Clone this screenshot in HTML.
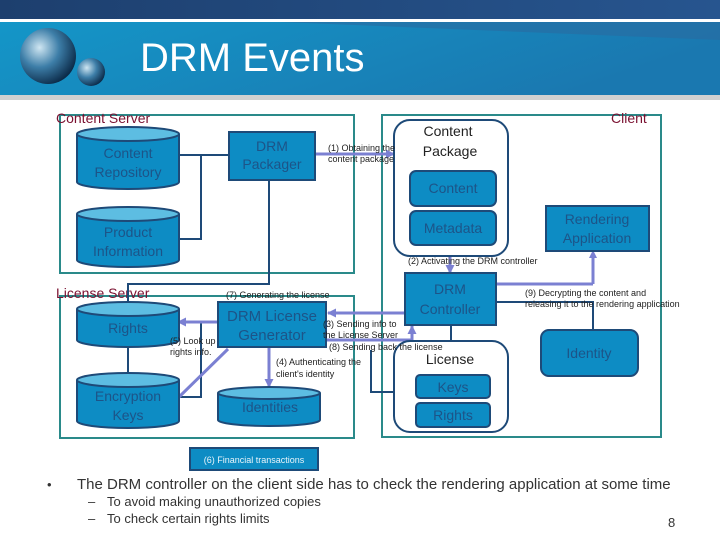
<!DOCTYPE html>
<html><head><style>
body{margin:0;width:720px;height:540px;overflow:hidden;background:#fff;font-family:"Liberation Sans",sans-serif}
</style></head><body>
<svg width="720" height="540" xmlns="http://www.w3.org/2000/svg" font-family="Liberation Sans, sans-serif">
<defs>
<linearGradient id="hb" x1="0" y1="0" x2="1" y2="0"><stop offset="0" stop-color="#1d3f6e"/><stop offset="1" stop-color="#27558f"/></linearGradient>
<linearGradient id="bb" x1="0" y1="0" x2="1" y2="0.3"><stop offset="0" stop-color="#1496c8"/><stop offset="1" stop-color="#1a78b0"/></linearGradient>
<radialGradient id="ball" cx="0.35" cy="0.35" r="0.7"><stop offset="0" stop-color="#cfe6f2"/><stop offset="0.5" stop-color="#3d7ea8"/><stop offset="1" stop-color="#0b2a48"/></radialGradient>
<marker id="ar" markerUnits="userSpaceOnUse" markerWidth="9" markerHeight="9" refX="8" refY="4.5" orient="auto"><path d="M0,0L9,4.5L0,9z" fill="#7b80d2"/></marker>
</defs>
<rect x="0" y="0" width="720" height="19" fill="url(#hb)"/>
<rect x="0" y="19" width="720" height="3" fill="#fff"/>
<rect x="0" y="22" width="720" height="73" fill="url(#bb)"/>
<polygon points="280,22 720,22 720,40" fill="#2a6aa0" opacity="0.6"/>
<rect x="0" y="95" width="720" height="5" fill="#d0d0d0"/>
<circle cx="48" cy="56" r="28" fill="url(#ball)"/>
<circle cx="91" cy="72" r="14" fill="url(#ball)"/>
<text x="140" y="71" font-size="40" fill="#fff">DRM Events</text>

<g fill="none" stroke="#2a8a8a" stroke-width="2">
<rect x="60" y="115" width="294" height="158"/>
<rect x="60" y="296" width="294" height="142"/>
<rect x="382" y="115" width="279" height="322"/>
</g>
<g font-size="14" fill="#7a1030">
<text x="56" y="123">Content Server</text>
<text x="56" y="298">License Server</text>
<text x="611" y="123">Client</text>
</g>

<g fill="none" stroke="#1e4a78" stroke-width="2">
<path d="M179,155H229M201,155V239H179"/>
<path d="M269,180V284H128V302"/>
<path d="M128,347V373"/>
<path d="M179,397H201V322"/>
<path d="M451,325V341"/>
<path d="M496,302H593V330"/>
<path d="M394,392H371V350"/>
</g>
<g fill="none" stroke="#7b80d2" stroke-width="3">
<path d="M315,154H394" marker-end="url(#ar)"/>
<path d="M450,256V273" marker-end="url(#ar)"/>
<path d="M593,284V253" />
<path d="M593,284H496"/>
<path d="M405,313H328" marker-end="url(#ar)"/>
<path d="M326,340H412V326" marker-end="url(#ar)"/>
<path d="M218,322H178" marker-end="url(#ar)"/>
<path d="M179,397L228,349" />
<path d="M269,347V387" marker-end="url(#ar)"/>
</g>
<polygon points="593,250 589,258 597,258" fill="#7b80d2"/>

<g stroke="#1e4a78" stroke-width="2" fill="#0d8cc4">
<path d="M77,134V182A51,7 0 0 0 179,182V134"/><ellipse cx="128" cy="134" rx="51" ry="7" fill="#5dbde2"/>
<path d="M77,214V260A51,7 0 0 0 179,260V214"/><ellipse cx="128" cy="214" rx="51" ry="7" fill="#5dbde2"/>
<path d="M77,309V340A51,7 0 0 0 179,340V309"/><ellipse cx="128" cy="309" rx="51" ry="7" fill="#5dbde2"/>
<path d="M77,380V421A51,7 0 0 0 179,421V380"/><ellipse cx="128" cy="380" rx="51" ry="7" fill="#5dbde2"/>
<path d="M218,393V420A51,6 0 0 0 320,420V393"/><ellipse cx="269" cy="393" rx="51" ry="6" fill="#5dbde2"/>
<rect x="229" y="132" width="86" height="48"/>
<rect x="218" y="302" width="108" height="45"/>
<rect x="546" y="206" width="103" height="45"/>
<rect x="405" y="273" width="91" height="52"/>
<rect x="410" y="171" width="86" height="35" rx="6"/>
<rect x="410" y="211" width="86" height="34" rx="6"/>
<rect x="541" y="330" width="97" height="46" rx="8"/>
<rect x="416" y="375" width="74" height="23" rx="4"/>
<rect x="416" y="403" width="74" height="24" rx="4"/>
<rect x="190" y="448" width="128" height="22"/>
</g>
<g fill="none" stroke="#1e4a78" stroke-width="2">
<rect x="394" y="120" width="114" height="136" rx="16"/>
<rect x="394" y="341" width="114" height="91" rx="16"/>
</g>

<g font-size="14" fill="#1d5488" text-anchor="middle">
<text x="128" y="158">Content</text><text x="128" y="177">Repository</text>
<text x="128" y="237">Product</text><text x="128" y="256">Information</text>
<text x="128" y="333">Rights</text>
<text x="128" y="401">Encryption</text><text x="128" y="420">Keys</text>
<text x="270" y="412">Identities</text>
<text x="272" y="151">DRM</text><text x="272" y="169">Packager</text>
<text x="272" y="321" font-size="15">DRM License</text><text x="272" y="340" font-size="15">Generator</text>
<text x="597" y="224">Rendering</text><text x="597" y="243">Application</text>
<text x="450" y="294">DRM</text><text x="450" y="314">Controller</text>
<text x="453" y="193">Content</text>
<text x="453" y="233">Metadata</text>
<text x="589" y="358">Identity</text>
<text x="453" y="392">Keys</text>
<text x="453" y="420">Rights</text>
</g>
<g font-size="14" fill="#222" text-anchor="middle">
<text x="448" y="136">Content</text><text x="450" y="156">Package</text>
<text x="450" y="364">License</text>
</g>
<text x="254" y="463" font-size="9" fill="#e8f4fa" text-anchor="middle">(6) Financial transactions</text>

<g font-size="9" fill="#222">
<text x="328" y="151">(1) Obtaining the</text><text x="328" y="162">content package</text>
<text x="408" y="264">(2) Activating the DRM controller</text>
<text x="226" y="298">(7) Generating the license</text>
<text x="170" y="344">(5) Look up</text><text x="170" y="355">rights info.</text>
<text x="323" y="327">(3) Sending info to</text><text x="323" y="338">the License Server</text>
<text x="329" y="350">(8) Sending back the license</text>
<text x="276" y="365">(4) Authenticating the</text><text x="276" y="377">client's identity</text>
<text x="525" y="296">(9) Decrypting the content and</text><text x="525" y="307">releasing it to the rendering application</text>
</g>

<g fill="#333">
<text x="47" y="489" font-size="13">•</text>
<text x="77" y="489" font-size="15">The DRM controller on the client side has to check the rendering application at some time</text>
<text x="88" y="506" font-size="13">–</text><text x="107" y="506" font-size="13">To avoid making unauthorized copies</text>
<text x="88" y="523" font-size="13">–</text><text x="107" y="523" font-size="13">To check certain rights limits</text>
<text x="668" y="527" font-size="13">8</text>
</g>
</svg>
</body></html>
